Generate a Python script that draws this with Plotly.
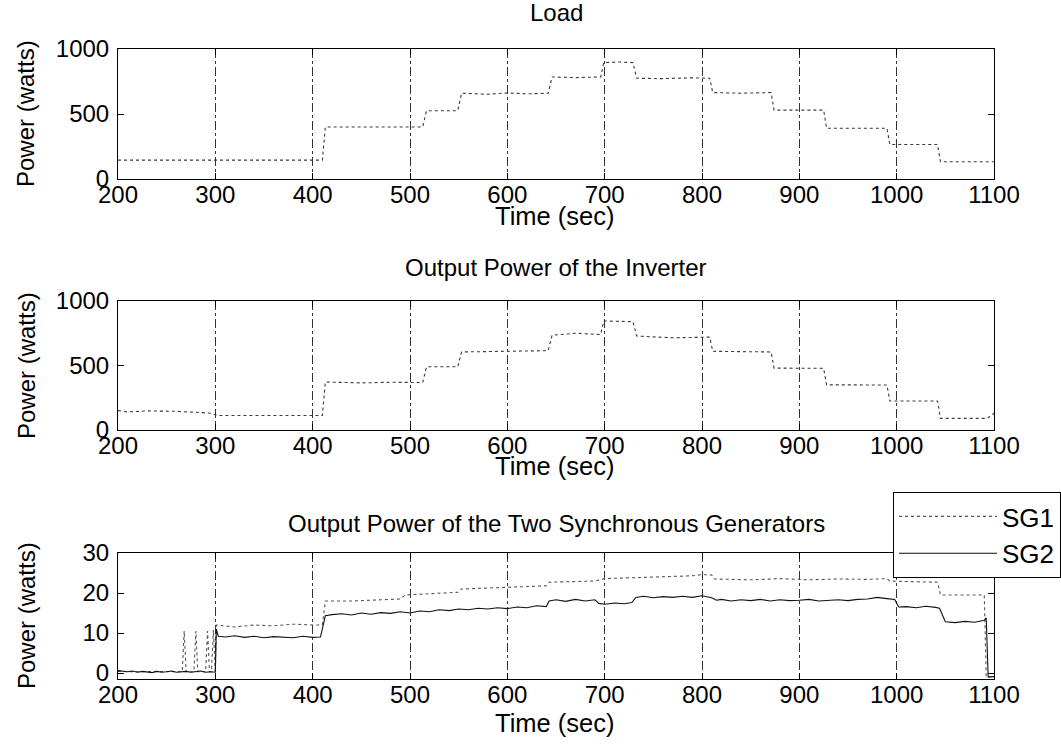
import plotly.graph_objects as go

# ---------------- data ----------------
load_t = [200, 410, 413, 513, 517, 549, 553, 580, 600, 620, 642, 646, 670, 696, 699, 715, 729, 733, 760, 790, 808, 811, 840, 871, 874, 900, 925, 928, 960, 990, 993, 1020, 1042, 1045, 1100]
load_p = [145, 145, 400, 400, 525, 525, 660, 652, 662, 655, 660, 785, 780, 785, 895, 900, 895, 775, 772, 778, 775, 665, 660, 665, 530, 528, 530, 390, 390, 390, 265, 265, 265, 133, 133]

inv_t = [200, 210, 230, 260, 285, 295, 302, 410, 413, 450, 480, 513, 517, 549, 553, 600, 642, 646, 670, 696, 699, 729, 733, 770, 808, 811, 871, 874, 925, 928, 990, 993, 1042, 1045, 1093, 1100]
inv_p = [150, 140, 148, 145, 135, 130, 112, 112, 372, 365, 370, 368, 490, 490, 605, 612, 615, 735, 750, 740, 845, 840, 728, 715, 720, 610, 605, 480, 478, 350, 349, 225, 225, 90, 90, 130]

sg1_t = [200, 220, 240, 260, 266, 268, 270, 278, 280, 282, 290, 292, 294, 296, 298, 300, 301, 320, 340, 360, 380, 400, 410, 413, 440, 470, 490, 495, 520, 550, 553, 580, 610, 640, 643, 670, 690, 700, 730, 760, 790, 800, 810, 813, 850, 880, 910, 940, 970, 990, 993, 1020, 1042, 1045, 1070, 1090, 1092, 1095, 1100]
sg1_p = [0.4, 0.3, 0.4, 0.3, 0.3, 10.5, 0.3, 0.3, 10.5, 0.3, 0.3, 10.5, 0.3, 0.3, 10.8, 0.3, 12.0, 11.5, 12.0, 11.8, 12.2, 12.0, 12.0, 18.0, 18.0, 18.3, 18.5, 19.5, 19.8, 20.2, 21.0, 21.2, 21.6, 21.8, 22.7, 22.8, 23.0, 23.6, 23.8, 24.0, 24.3, 24.6, 24.5, 23.5, 23.3, 23.6, 23.3, 23.5, 23.4, 23.6, 23.0, 22.8, 22.7, 19.5, 19.6, 19.5, -1.0, -1.0, -0.8]

sg2_t = [200, 205, 210, 215, 220, 225, 230, 235, 240, 245, 250, 255, 260, 265, 270, 275, 280, 285, 290, 295, 300, 301, 303,
         310, 320, 330, 340, 350, 360, 370, 380, 390, 400, 408, 413,
         420, 430, 440, 450, 460, 470, 480, 490, 500, 510, 520, 530, 540, 550, 560, 570, 580, 590, 600, 610, 620, 630, 640, 643,
         650, 660, 670, 680, 690, 694, 700, 710, 720, 728, 732, 740, 750, 760, 770, 780, 790, 800, 810, 815,
         820, 830, 840, 850, 860, 870, 880, 890, 900, 910, 920, 930, 940, 950, 960, 970, 980, 990, 998, 1002,
         1010, 1020, 1030, 1040, 1044, 1050, 1060, 1070, 1080, 1090, 1092, 1094, 1100]
sg2_p = [0.6, 0.4, 0.3, 0.5, 0.2, 0.4, 0.3, 0.1, 0.4, 0.2, 0.3, 0.5, 0.2, 0.3, 0.4, 0.2, 0.3, 0.5, 0.2, 0.3, 0.2, 11.0, 9.2,
         9.0, 9.3, 8.9, 9.2, 8.8, 9.1, 9.0, 8.8, 9.2, 8.9, 9.0, 14.3,
         14.6, 14.8, 14.5, 15.0, 14.7, 15.1, 14.9, 15.3, 15.0, 15.5, 15.3, 15.8, 15.6, 16.0, 15.8, 16.2, 16.0, 16.3, 16.1, 16.5, 16.3, 16.8, 16.6, 18.0,
         18.3, 17.9, 18.4, 18.0, 18.3, 17.4, 17.2, 17.5, 17.3, 17.6, 18.9, 19.2, 18.8, 19.1, 18.9, 19.2, 18.9, 19.3, 18.8, 18.2,
         18.4, 18.0, 18.3, 18.1, 18.4, 18.0, 18.3, 18.1, 18.2, 18.4, 18.0, 18.2, 18.3, 18.1, 18.4, 18.5, 18.9, 18.6, 18.4, 16.5,
         16.6, 16.3, 16.7, 16.4, 16.2, 12.8, 12.6, 12.9, 12.7, 13.2, 13.8, -1.0, -0.9]

x_ticks = [200, 300, 400, 500, 600, 700, 800, 900, 1000, 1100]
titles = ["Load", "Output Power of the Inverter", "Output Power of the Two Synchronous Generators"]
ylabel = "Power (watts)"
xlabel = "Time (sec)"

# ---------------- layout geometry (reference pixels) ----------------
W, H = 1061, 753
L, R, T, B = 118, 994, 49, 679
PW, PH = R - L, B - T


def py(p):
    return 1 - (p - T) / PH


def px(p):
    return (p - L) / PW


FONT = "Liberation Sans, Arial, Helvetica, sans-serif"
fig = go.Figure()

line_style = dict(color="#3a3a3a", width=1.1, dash="dot")
fig.add_trace(go.Scatter(x=load_t, y=load_p, mode="lines", line=line_style, showlegend=False, xaxis="x", yaxis="y"))
fig.add_trace(go.Scatter(x=inv_t, y=inv_p, mode="lines", line=line_style, showlegend=False, xaxis="x2", yaxis="y2"))
fig.add_trace(go.Scatter(x=sg1_t, y=sg1_p, mode="lines", name="SG1", legendgroup="a",
                         line=dict(color="#555555", width=1.1, dash="dot"), xaxis="x3", yaxis="y3"))
fig.add_trace(go.Scatter(x=sg2_t, y=sg2_p, mode="lines", name="SG2", legendgroup="b",
                         line=dict(color="#111111", width=1.1), xaxis="x3", yaxis="y3"))

tickfont = dict(family=FONT, size=24, color="black")
xax = dict(range=[200, 1100], tickvals=x_ticks, ticks="inside", ticklen=6, tickcolor="black",
           showline=True, linecolor="black", linewidth=1, mirror="ticks",
           showgrid=True, gridcolor="#333333", griddash="dashdot", gridwidth=1,
           zeroline=False, tickfont=tickfont, ticklabelstandoff=-6)
yax = dict(ticks="inside", ticklen=6, tickcolor="black", showline=True, linecolor="black",
           linewidth=1, mirror="ticks", showgrid=False, zeroline=False, tickfont=tickfont,
           ticklabelstandoff=3)

domains = [[py(179), py(49)], [py(430), py(301)], [py(679), py(553)]]
yranges = [[0, 1000], [0, 1000], [-1.5, 30]]
ytickvals = [[0, 500, 1000], [0, 500, 1000], [0, 10, 20, 30]]

layout = dict(width=W, height=H, paper_bgcolor="white", plot_bgcolor="white",
              margin=dict(l=L, r=W - R, t=T, b=H - B, autoexpand=False),
              font=dict(family=FONT, color="black"),
              legend=dict(x=px(893), y=py(492), xanchor="left", yanchor="top",
                          bgcolor="white", bordercolor="black", borderwidth=1,
                          font=dict(family=FONT, size=26, color="black"),
                          itemwidth=98, tracegroupgap=0),
              annotations=[])
for i in range(3):
    sx = "" if i == 0 else str(i + 1)
    xa = dict(xax)
    xa["anchor"] = "y" + sx
    layout["xaxis" + sx] = xa
    ya = dict(yax)
    ya.update(domain=domains[i], range=yranges[i], tickvals=ytickvals[i], anchor="x" + sx)
    layout["yaxis" + sx] = ya

title_y = [13, 267, 523]
xlabel_y = [216, 466, 723]
ycent = [114, 366, 616]
for i in range(3):
    layout["annotations"].append(dict(text=titles[i], xref="paper", yref="paper", x=px(556), y=py(title_y[i]),
                                      xanchor="center", yanchor="middle", showarrow=False,
                                      font=dict(family=FONT, size=24, color="black")))
    layout["annotations"].append(dict(text=xlabel, xref="paper", yref="paper", x=px(554), y=py(xlabel_y[i]),
                                      xanchor="center", yanchor="middle", showarrow=False,
                                      font=dict(family=FONT, size=25.5, color="black")))
    layout["annotations"].append(dict(text=ylabel, xref="paper", yref="paper", x=px(26), y=py(ycent[i]),
                                      xanchor="center", yanchor="middle", showarrow=False, textangle=-90,
                                      font=dict(family=FONT, size=24, color="black")))

fig.update_layout(**layout)
fig.write_html("out.html", config={"displayModeBar": False},
               post_script="document.body.style.margin='0';")
